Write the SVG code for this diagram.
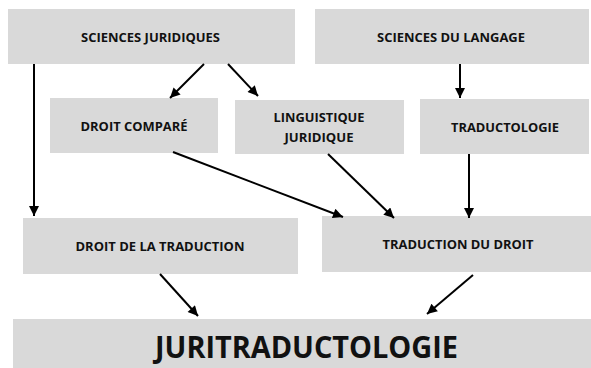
<svg xmlns="http://www.w3.org/2000/svg" width="591" height="368" viewBox="0 0 591 368">
<style>
.box{fill:#d9d9d9}
.t{font-family:"Open Sans","Liberation Sans",sans-serif;font-weight:bold;fill:#111;text-anchor:middle;font-size:13.2px}
.s{font-size:12.5px}
.big{font-size:30.5px}
.c{stroke:#000;stroke-width:2;fill:none;marker-end:url(#ah)}
</style>
<defs>
<marker id="ah" viewBox="0 0 10 10" refX="10" refY="5" markerWidth="5.5" markerHeight="5" orient="auto" markerUnits="strokeWidth">
<path d="M0,0 L10,5 L0,10 z" fill="#000"/>
</marker>
</defs>
<g id="sciences-juridiques"><rect class="box" x="8" y="9" width="287" height="55"/><text class="t" x="150.5" y="42" textLength="139" lengthAdjust="spacingAndGlyphs">SCIENCES JURIDIQUES</text></g>
<g id="sciences-du-langage"><rect class="box" x="315" y="9" width="274" height="55"/><text class="t" x="451" y="42" textLength="148" lengthAdjust="spacingAndGlyphs">SCIENCES DU LANGAGE</text></g>
<g id="droit-compare"><rect class="box" x="50" y="98" width="168" height="55"/><text class="t" x="134" y="131" textLength="107" lengthAdjust="spacingAndGlyphs">DROIT COMPARÉ</text></g>
<g id="linguistique-juridique"><rect class="box" x="235" y="100" width="169" height="54"/><text class="t" x="319" y="122" textLength="91" lengthAdjust="spacingAndGlyphs">LINGUISTIQUE</text><text class="t" x="319" y="142" textLength="69" lengthAdjust="spacingAndGlyphs">JURIDIQUE</text></g>
<g id="traductologie"><rect class="box" x="420" y="99" width="169" height="55"/><text class="t" x="505" y="132" textLength="108" lengthAdjust="spacingAndGlyphs">TRADUCTOLOGIE</text></g>
<g id="droit-de-la-traduction"><rect class="box" x="23" y="218" width="275" height="56"/><text class="t s" x="160" y="251" textLength="169" lengthAdjust="spacingAndGlyphs">DROIT DE LA TRADUCTION</text></g>
<g id="traduction-du-droit"><rect class="box" x="322" y="216" width="269" height="56"/><text class="t s" x="458" y="249" textLength="151" lengthAdjust="spacingAndGlyphs">TRADUCTION DU DROIT</text></g>
<g id="juritraductologie"><rect class="box" x="13" y="319" width="578" height="49"/><text class="t big" x="306.5" y="358" textLength="303" lengthAdjust="spacingAndGlyphs">JURITRADUCTOLOGIE</text></g>
<g id="connectors">
<line class="c" x1="34" y1="64" x2="34" y2="216"/>
<line class="c" x1="204" y1="64" x2="170" y2="98"/>
<line class="c" x1="228" y1="64" x2="258" y2="96"/>
<line class="c" x1="460" y1="64" x2="460" y2="98"/>
<line class="c" x1="173" y1="152" x2="343" y2="217"/>
<line class="c" x1="328" y1="154" x2="394" y2="218"/>
<line class="c" x1="469" y1="154" x2="469" y2="218"/>
<line class="c" x1="160" y1="274" x2="198" y2="316"/>
<line class="c" x1="473" y1="275" x2="427" y2="314"/>
</g>
</svg>
